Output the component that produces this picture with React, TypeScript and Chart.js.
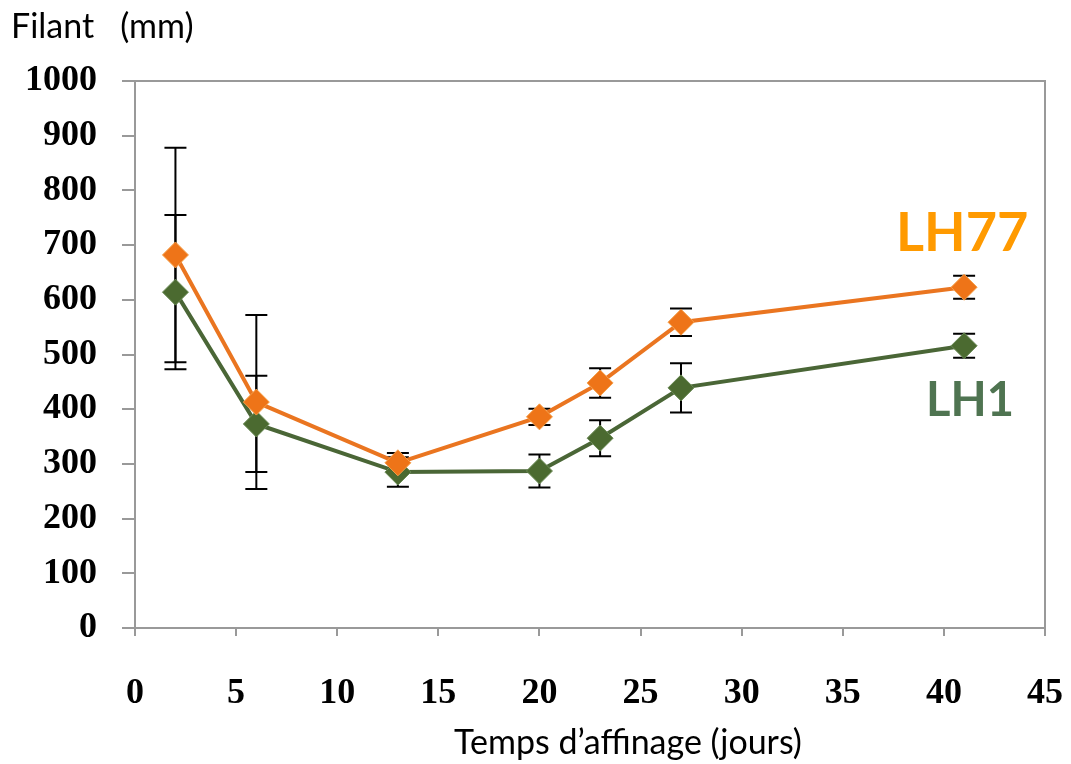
import React, { useEffect, useRef } from "react";
import { Chart, registerables } from "chart.js";

Chart.register(...registerables);

const days = [2, 6, 13, 20, 23, 27, 41];
const lh77 = [682, 413, 302, 386, 448, 559, 623];
const lh77Err = [196, 159, 18, 15, 27, 25, 21];
const lh1 = [614, 373, 285, 287, 347, 439, 516];
const lh1Err = [141, 88, 27, 30, 33, 45, 22];
const xTicks = [0, 5, 10, 15, 20, 25, 30, 35, 40, 45];
const yTicks = [0, 100, 200, 300, 400, 500, 600, 700, 800, 900, 1000];
const yTitle = "Filant   (mm)";
const xTitle = "Temps d’affinage (jours)";
const seriesNames = ["LH77", "LH1"];

const W = 1071;
const H = 764;
const LEFT = 135;
const TOP = 81;
const RIGHT = 1045;
const BOTTOM = 628;

const errorBarPlugin = {
  id: "errorBars",
  beforeDatasetsDraw(chart: any) {
    const ctx = chart.ctx;
    const xs = chart.scales.x;
    const ys = chart.scales.y;
    const errs = [lh77Err, lh1Err];
    const vals = [lh77, lh1];
    ctx.save();
    ctx.strokeStyle = "#000";
    ctx.lineWidth = 2;
    for (let s = 0; s < 2; s++) {
      for (let i = 0; i < days.length; i++) {
        const px = xs.getPixelForValue(days[i]);
        const top = ys.getPixelForValue(vals[s][i] + errs[s][i]);
        const bot = ys.getPixelForValue(vals[s][i] - errs[s][i]);
        ctx.beginPath();
        ctx.moveTo(px, top);
        ctx.lineTo(px, bot);
        ctx.moveTo(px - 11, top);
        ctx.lineTo(px + 11, top);
        ctx.moveTo(px - 11, bot);
        ctx.lineTo(px + 11, bot);
        ctx.stroke();
      }
    }
    ctx.restore();
  },
};

const framePlugin = {
  id: "frame",
  beforeDraw(chart: any) {
    const ctx = chart.ctx;
    ctx.save();
    ctx.fillStyle = "#fff";
    ctx.fillRect(0, 0, chart.width, chart.height);
    ctx.restore();
  },
  afterDraw(chart: any) {
    const ctx = chart.ctx;
    const a = chart.chartArea;
    ctx.save();
    ctx.strokeStyle = "#999";
    ctx.lineWidth = 2;
    ctx.beginPath();
    ctx.moveTo(a.left - 13, a.top);
    ctx.lineTo(a.right, a.top);
    ctx.lineTo(a.right, a.bottom);
    ctx.stroke();

    ctx.fillStyle = "#000";
    ctx.textBaseline = "alphabetic";
    ctx.font = "34px Lato";
    ctx.textAlign = "left";
    ctx.fillText(yTitle, 11, 38);
    ctx.textAlign = "center";
    ctx.fillText(xTitle, 628, 754);

    ctx.font = "bold 54px Lato";
    ctx.textAlign = "left";
    ctx.fillStyle = "#FF9A00";
    ctx.fillText(seriesNames[0], 896, 251);
    ctx.font = "bold 47px Lato";
    ctx.fillStyle = "#4F7451";
    ctx.fillText(seriesNames[1], 926, 416);
    ctx.restore();
  },
};

export default function App() {
  const ref = useRef<HTMLCanvasElement | null>(null);
  useEffect(() => {
    if (!ref.current) return;
    const tickFont = { family: "Liberation Serif", weight: "bold" as const, size: 36 };
    const chart = new Chart(ref.current, {
      type: "line",
      data: {
        datasets: [
          {
            label: seriesNames[0],
            data: days.map((d, i) => ({ x: d, y: lh77[i] })),
            borderColor: "#EA7520",
            backgroundColor: "#EE7418",
            borderWidth: 4,
            pointStyle: "rectRot",
            pointRadius: 13,
            pointBorderColor: "#F5A04A",
            pointBorderWidth: 1,
            pointBackgroundColor: "#EE7418",
            tension: 0,
          },
          {
            label: seriesNames[1],
            data: days.map((d, i) => ({ x: d, y: lh1[i] })),
            borderColor: "#4A6636",
            backgroundColor: "#4B6A30",
            borderWidth: 4,
            pointStyle: "rectRot",
            pointRadius: 13,
            pointBorderColor: "#6A8A55",
            pointBorderWidth: 1,
            pointBackgroundColor: "#4B6A30",
            tension: 0,
          },
        ],
      },
      options: {
        animation: false,
        responsive: true,
        maintainAspectRatio: false,
        layout: { padding: { top: TOP, right: W - RIGHT, left: 0, bottom: 0 } },
        plugins: { legend: { display: false }, tooltip: { enabled: false } },
        scales: {
          x: {
            type: "linear",
            min: 0,
            max: 45,
            afterFit: (s: any) => {
              s.height = H - BOTTOM;
              s.paddingLeft = 0;
              s.paddingRight = 0;
            },
            afterBuildTicks: (s: any) => {
              s.ticks = xTicks.map((v) => ({ value: v }));
            },
            ticks: { color: "#000", font: tickFont, padding: 36, maxRotation: 0, callback: (v: any) => String(v) },
            grid: { drawOnChartArea: false, drawTicks: true, tickLength: 8, color: "#999", lineWidth: 2 },
            border: { display: true, color: "#999", width: 2 },
          },
          y: {
            type: "linear",
            min: 0,
            max: 1000,
            afterFit: (s: any) => {
              s.width = LEFT;
              s.paddingTop = 0;
              s.paddingBottom = 0;
            },
            afterBuildTicks: (s: any) => {
              s.ticks = yTicks.map((v) => ({ value: v }));
            },
            ticks: { color: "#000", font: tickFont, padding: 25, callback: (v: any) => String(v) },
            grid: { drawOnChartArea: false, drawTicks: true, tickLength: 13, color: "#999", lineWidth: 2 },
            border: { display: true, color: "#999", width: 2 },
          },
        },
      },
      plugins: [errorBarPlugin, framePlugin],
    });
    return () => chart.destroy();
  }, []);
  return (
    <div style={{ position: "fixed", left: 0, top: 0, width: W, height: H, background: "#fff" }}>
      <canvas ref={ref} />
    </div>
  );
}
